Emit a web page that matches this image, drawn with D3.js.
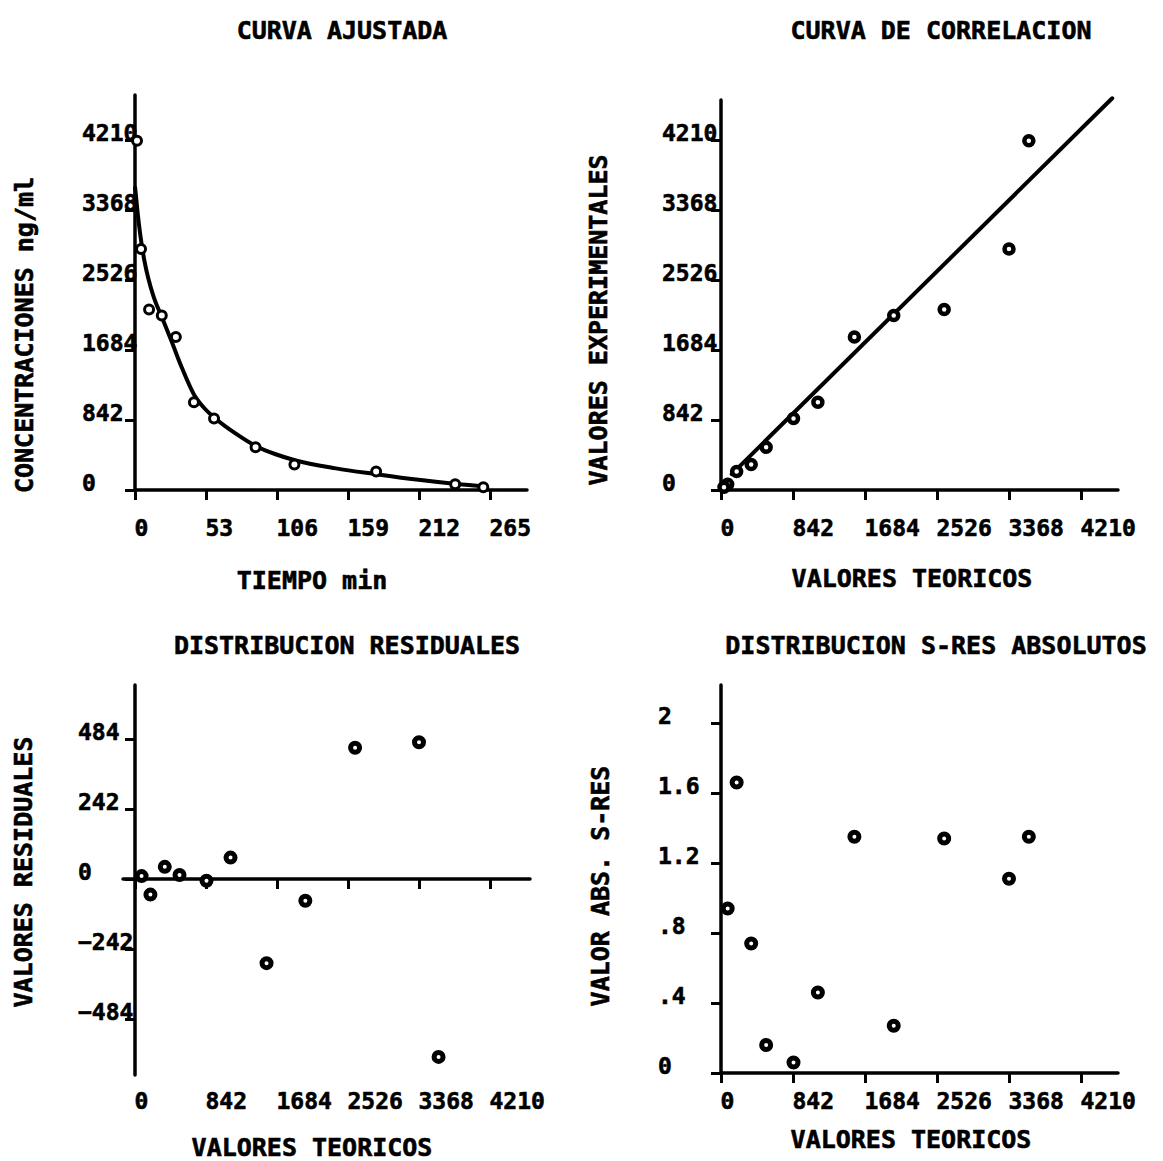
<!DOCTYPE html>
<html lang="es">
<head>
<meta charset="UTF-8">
<script src="https://d3js.org/d3.v7.min.js"></script>
<title>Curva ajustada</title>
<style>
    body { margin: 0; background: #fff; }
    svg text { font-family: "DejaVu Sans Mono", monospace; font-weight: bold; fill: #000; stroke: #000; stroke-width: 0.6px; font-variant-numeric: slashed-zero; }
</style>
</head>
<body>
<svg id="chart" width="1163" height="1161"></svg>
<script>
    // muestras: tiempo (min), concentracion medida y teorica (ng/ml)
    const tiempo = [1.5, 4.5, 10.5, 20, 30.5, 44, 59, 90, 119, 180, 239, 260];
    const concExp = [4200, 2900, 2170, 2100, 1840, 1055, 860, 513, 307, 222, 68, 34];
    const concTeo = [3600, 3368, 2610, 2020, 1560, 1133, 848, 528, 353, 183, 78, 35];
    const residuales = [-615, 473, 454, -75, -291, 74, -6, 14, 42, -54, 10, null];
    const sresAbs = [1.35, 1.11, 1.34, 0.27, 1.35, 0.46, 0.06, 0.16, 0.74, 1.66, 0.94, null];

    // curva ajustada
    const curvaT = [0, 2, 4, 7, 10, 14, 20, 27, 35, 44, 52, 60, 75, 90, 105, 120, 150, 180, 210, 240, 262];
    const curvaC = [3650, 3330, 3060, 2760, 2540, 2320, 2080, 1800, 1470, 1150, 980, 860, 680, 530, 430, 355, 260, 190, 125, 72, 42];

    // recta de correlacion
    const rectaX = [125, 4575];
    const rectaY = [191, 4712];

    // ticks
    const ticksTiempo = [0, 53, 106, 159, 212, 265];
    const ticksConc = [0, 842, 1684, 2526, 3368, 4210];
    const ticksRes = [-484, -242, 0, 242, 484];
    const ticksSres = [0, 0.4, 0.8, 1.2, 1.6, 2];

    const svg = d3.select("#chart");
    const LW = 3.5;

    function text(str, x, y, size, rotate) {
        const t = svg.append("text")
            .attr("text-anchor", "middle")
            .style("font-size", size + "px")
            .text(str);
        if (rotate) t.attr("transform", `translate(${x},${y}) rotate(-90)`);
        else t.attr("x", x).attr("y", y);
    }

    function line(x1, y1, x2, y2) {
        svg.append("line")
            .attr("x1", x1).attr("y1", y1).attr("x2", x2).attr("y2", y2)
            .attr("stroke", "#000").attr("stroke-width", LW).attr("stroke-linecap", "round");
    }

    // ejes con ticks; las etiquetas van alineadas a la izquierda como en el plotter
    function ejeX(x, yPos, ticks, fmt, labelBase) {
        svg.append("g").attr("transform", `translate(0,${yPos})`)
            .call(d3.axisBottom(x).tickValues(ticks).tickSize(10).tickSizeOuter(0).tickFormat(fmt))
            .call(a => a.select(".domain").remove())
            .call(a => a.selectAll(".tick line").attr("stroke", "#000").attr("stroke-width", 3))
            .call(a => a.selectAll(".tick text")
                .attr("text-anchor", "start").attr("x", -1).attr("y", labelBase - yPos).attr("dy", null)
                .style("font-size", "23px"));
    }

    function ejeY(y, xPos, ticks, fmt, labelX) {
        svg.append("g").attr("transform", `translate(${xPos},0)`)
            .call(d3.axisLeft(y).tickValues(ticks).tickSize(10).tickSizeOuter(0).tickFormat(fmt))
            .call(a => a.select(".domain").remove())
            .call(a => a.selectAll(".tick line").attr("stroke", "#000").attr("stroke-width", 3))
            .call(a => a.selectAll(".tick text")
                .attr("text-anchor", "start").attr("x", labelX - xPos).attr("y", 0).attr("dy", null)
                .style("font-size", "23px"));
    }

    function puntos(xs, ys, x, y, r, sw) {
        const pts = xs.map((d, i) => [d, ys[i]]).filter(d => d[1] !== null);
        svg.append("g").selectAll("circle")
            .data(pts)
            .enter()
            .append("circle")
            .attr("cx", d => x(d[0]))
            .attr("cy", d => y(d[1]))
            .attr("r", r)
            .attr("fill", "#fff")
            .attr("stroke", "#000")
            .attr("stroke-width", sw);
    }

    const fmtInt = d3.format("d");

    // ---- Panel 1: curva ajustada ----
    const x1 = d3.scaleLinear().domain([0, 265]).range([135, 490]);
    const y1 = d3.scaleLinear().domain([0, 4210]).range([490, 140]);
    ejeX(x1, 490, ticksTiempo, fmtInt, 536);
    ejeY(y1, 135, ticksConc, fmtInt, 82);
    line(135, 95, 135, 490);
    line(135, 490, 527, 490);
    svg.append("path")
        .datum(curvaT.map((d, i) => [d, curvaC[i]]))
        .attr("d", d3.line().x(d => x1(d[0])).y(d => y1(d[1])).curve(d3.curveMonotoneX))
        .attr("fill", "none").attr("stroke", "#000").attr("stroke-width", 4);
    puntos(tiempo, concExp, x1, y1, 4.5, 3);
    text("CURVA AJUSTADA", 342, 39, 25);
    text("TIEMPO min", 312, 589, 25);
    text("CONCENTRACIONES ng/ml", 33, 335, 25, true);

    // ---- Panel 2: curva de correlacion ----
    const x2 = d3.scaleLinear().domain([0, 4210]).range([721, 1081]);
    const y2 = d3.scaleLinear().domain([0, 4210]).range([490, 140]);
    ejeX(x2, 490, ticksConc, fmtInt, 536);
    ejeY(y2, 721, ticksConc, fmtInt, 662);
    line(721, 100, 721, 490);
    line(721, 490, 1118, 490);
    svg.append("path")
        .datum(rectaX.map((d, i) => [d, rectaY[i]]))
        .attr("d", d3.line().x(d => x2(d[0])).y(d => y2(d[1])))
        .attr("fill", "none").attr("stroke", "#000").attr("stroke-width", 4).attr("stroke-linecap", "round");
    puntos(concTeo, concExp, x2, y2, 4.5, 4.5);
    text("CURVA DE CORRELACION", 941, 39, 25);
    text("VALORES TEORICOS", 912, 587, 25);
    text("VALORES EXPERIMENTALES", 607, 320, 25, true);

    // ---- Panel 3: distribucion residuales ----
    const x3 = d3.scaleLinear().domain([0, 4210]).range([135, 490]);
    const y3 = d3.scaleLinear().domain([-484, 484]).range([1019, 739]);
    ejeX(x3, y3(0), ticksConc, fmtInt, 1109);
    ejeY(y3, 135, ticksRes, fmtInt, 78);
    line(135, 685, 135, 1075);
    line(123, y3(0), 530, y3(0));
    puntos(concTeo, residuales, x3, y3, 4.5, 5);
    text("DISTRIBUCION RESIDUALES", 347, 654, 25);
    text("VALORES TEORICOS", 312, 1156, 25);
    text("VALORES RESIDUALES", 32, 872, 25, true);

    // ---- Panel 4: distribucion s-res absolutos ----
    const x4 = d3.scaleLinear().domain([0, 4210]).range([721, 1081]);
    const y4 = d3.scaleLinear().domain([0, 2]).range([1073, 723]);
    ejeX(x4, 1073, ticksConc, fmtInt, 1109);
    ejeY(y4, 721, ticksSres, d => d === 0 ? "0" : String(d).replace(/^0/, ""), 658);
    line(721, 685, 721, 1073);
    line(721, 1073, 1118, 1073);
    puntos(concTeo, sresAbs, x4, y4, 4.5, 5);
    text("DISTRIBUCION S-RES ABSOLUTOS", 936, 654, 25);
    text("VALORES TEORICOS", 911, 1148, 25);
    text("VALOR ABS. S-RES", 609, 886, 25, true);
</script>
</body>
</html>
